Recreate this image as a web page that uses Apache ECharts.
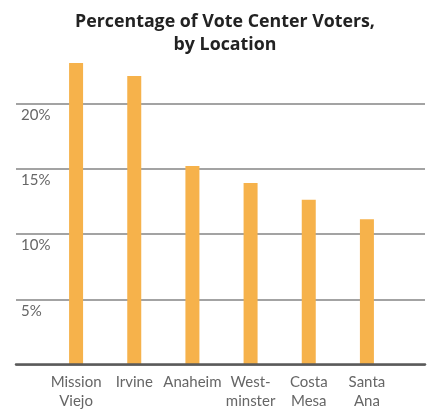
<!DOCTYPE html>
<html>
<head>
<meta charset="utf-8">
<script src="https://cdn.jsdelivr.net/npm/echarts@6/dist/echarts.min.js"></script>
<style>
  html, body { margin: 0; padding: 0; background: #fff; }
  #chart { width: 430px; height: 411px; }
</style>
</head>
<body>
<div id="chart"></div>
<script>
// Share of vote center voters per location (percent)
const locations = ['Mission\nViejo', 'Irvine', 'Anaheim', 'West-\nminster', 'Costa\nMesa', 'Santa\nAna'];
const voterShare = [23.1, 22.1, 15.2, 13.9, 12.6, 11.1];
const tickValues = [0, 5, 10, 15, 20];

const FONT = 'Lato, "Noto Sans", sans-serif';
const ZERO_Y = 364.5;      // pixel row of the 0% baseline
const PX_PER_5 = 65.25;    // pixels per 5 percentage points

const chart = echarts.init(document.getElementById('chart'), null, { renderer: 'canvas' });

chart.setOption({
  animation: false,
  title: {
    text: 'Percentage of Vote Center Voters,\nby Location',
    left: 220,
    top: 5,
    textAlign: 'center',
    textStyle: {
      fontFamily: '"Open Sans", Lato, sans-serif',
      fontWeight: 'bold',
      fontSize: 17.8,
      lineHeight: 23,
      color: '#222'
    }
  },
  grid: [
    // wide grid carrying the gridlines, tick labels and baseline
    { left: 16, right: 5, top: ZERO_Y - 4 * PX_PER_5, bottom: 411 - ZERO_Y },
    // narrower grid holding the bars
    { left: 47, right: 34, top: ZERO_Y - 5 * PX_PER_5, bottom: 411 - ZERO_Y }
  ],
  xAxis: [
    {
      gridIndex: 0,
      type: 'category',
      data: [''],
      axisLine: { show: true, lineStyle: { color: '#5a5a5a', width: 2.5 } },
      axisTick: { show: false },
      axisLabel: { show: false },
      z: 5
    },
    {
      gridIndex: 1,
      type: 'category',
      data: locations,
      axisLine: { show: false },
      axisTick: { show: false },
      axisLabel: {
        interval: 0,
        hideOverlap: false,
        margin: 9,
        fontFamily: FONT,
        fontSize: 15,
        lineHeight: 19,
        color: '#666'
      }
    }
  ],
  yAxis: [
    {
      gridIndex: 0,
      type: 'value',
      min: tickValues[0],
      max: tickValues[tickValues.length - 1],
      interval: 5,
      axisLine: { show: false },
      axisTick: { show: false },
      splitLine: { show: true, lineStyle: { color: '#a3a3a3', width: 2 } },
      axisLabel: {
        inside: true,
        margin: 5,
        align: 'left',
        verticalAlign: 'top',
        padding: [4, 0, 0, 0],
        fontFamily: FONT,
        fontSize: 15,
        color: '#666',
        formatter: v => (v === 0 ? '' : v + '%')
      }
    },
    {
      gridIndex: 1,
      type: 'value',
      min: 0,
      max: 25,
      show: false,
      splitLine: { show: false }
    }
  ],
  series: [
    {
      type: 'bar',
      xAxisIndex: 1,
      yAxisIndex: 1,
      data: voterShare,
      barWidth: 14,
      itemStyle: { color: '#F6B24B' },
      z: 3
    }
  ]
});
</script>
</body>
</html>
